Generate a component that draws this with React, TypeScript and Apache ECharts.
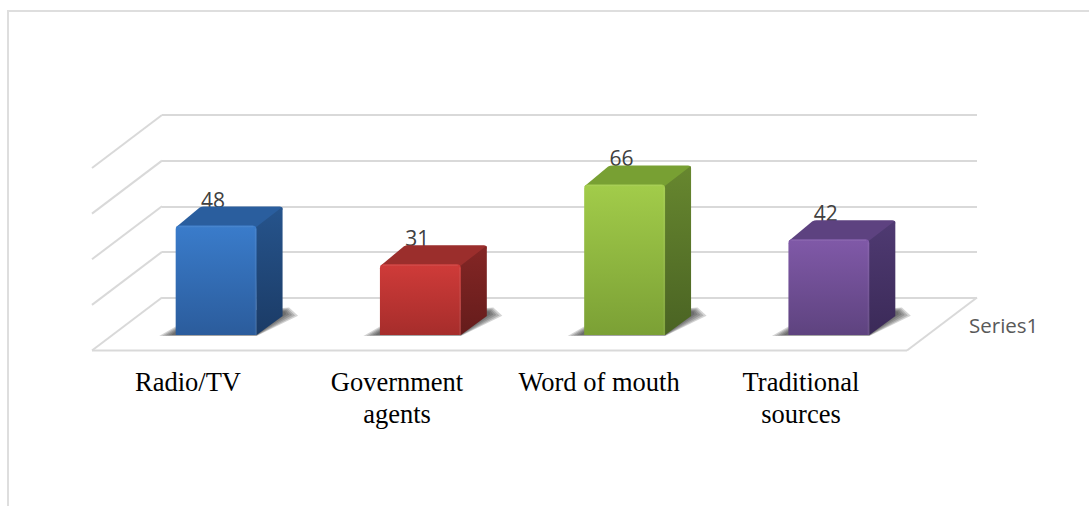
import React, { useEffect, useRef } from "react";
import * as echarts from "echarts";

const categories = ["Radio/TV", "Government\nagents", "Word of mouth", "Traditional\nsources"];
const values = [48, 31, 66, 42];
const seriesName = "Series1";
const yTicks = [0, 20, 40, 60, 80];

const frontTop = ["#3A7CCB", "#CF3B39", "#A2CC4A", "#8059A8"];
const frontBottom = ["#2B5C9C", "#A62D2B", "#7BA035", "#5E437F"];
const sideTop = ["#26548C", "#842625", "#67872F", "#4F3A72"];
const sideBottom = ["#1B3B66", "#651C1B", "#4A6323", "#3B2A58"];
const capColor = ["#2A5E9E", "#9B2E2C", "#78A033", "#5D4280"];

const GRID_COLOR = "#d9d9d9";
// Receding offsets of the floor and of each box
const FLOOR_DX = 70;
const FLOOR_DY = 53;
const BOX_DX = 26;
const BOX_DY = 19;
// Spread of the stacked translucent layers that make the soft floor shadow
const SHADOW_SPREAD = [9, 7, 5, 3, 1];

const vGrad = (a: string, b: string) =>
  new echarts.graphic.LinearGradient(0, 0, 0, 1, [
    { offset: 0, color: a },
    { offset: 1, color: b },
  ]);

function renderWall(_: any, api: any) {
  const tick = api.value(1);
  const [xl, y] = api.coord([0, tick]);
  const children: any[] = [
    {
      type: "line",
      shape: { x1: xl, y1: y, x2: xl - FLOOR_DX, y2: y + FLOOR_DY },
      style: { stroke: GRID_COLOR, lineWidth: 2 },
    },
  ];
  if (tick === 0) {
    const [xr] = api.coord([1, 0]);
    children.push(
      {
        type: "line",
        shape: { x1: xl - FLOOR_DX, y1: y + FLOOR_DY, x2: xr - FLOOR_DX, y2: y + FLOOR_DY },
        style: { stroke: GRID_COLOR, lineWidth: 2 },
      },
      {
        type: "line",
        shape: { x1: xr - FLOOR_DX, y1: y + FLOOR_DY, x2: xr, y2: y },
        style: { stroke: GRID_COLOR, lineWidth: 2 },
      },
    );
  }
  return { type: "group", children };
}

function renderBox(params: any, api: any) {
  const i = params.dataIndex;
  const value = api.value(1);
  const [cx, top] = api.coord([i, value]);
  const [, base] = api.coord([i, 0]);
  const w = api.size([1, 0])[0] * 0.396;
  const x0 = cx - w / 2;
  const x1 = cx + w / 2;
  const dx = BOX_DX;
  const dy = BOX_DY;
  const capPath =
    `M${x0} ${top + 2} L${x0 + dx - 2} ${top - dy + 1} Q${x0 + dx} ${top - dy} ${x0 + dx + 2} ${top - dy} ` +
    `L${x1 + dx - 3} ${top - dy} Q${x1 + dx} ${top - dy} ${x1 + dx} ${top - dy + 3} L${x1} ${top + 2} Z`;
  const sidePath =
    `M${x1 - 1} ${top + 2} L${x1 + dx - 1} ${top - dy + 1} Q${x1 + dx} ${top - dy} ${x1 + dx} ${top - dy + 3} ` +
    `L${x1 + dx} ${base - dy} L${x1} ${base} Z`;
  const shadowLayers = SHADOW_SPREAD.map((s) => ({
    type: "polygon",
    shape: {
      points: [
        [x0 - 3 - s * 1.5, base + s * 0.12],
        [x1, base + s * 0.12],
        [x1 + dx + 2 + s * 1.5, base - dy - 2 + s * 0.2],
        [x1 + dx + 2 + s * 0.5, base - dy - 4 - s * 0.5],
        [x1, base - dy - 6],
        [x0, base - 3 - s * 0.6],
      ],
    },
    style: { fill: "rgba(40,40,40,0.2)" },
  }));
  return {
    type: "group",
    children: [
      {
        type: "text",
        style: {
          text: String(value),
          x: cx - 3,
          y: top - 26,
          align: "center",
          verticalAlign: "middle",
          fontFamily: "Open Sans",
          fontSize: 21,
          fill: "#404040",
        },
      },
      ...shadowLayers,
      { type: "path", shape: { pathData: capPath }, style: { fill: capColor[i] } },
      { type: "path", shape: { pathData: sidePath }, style: { fill: vGrad(sideTop[i], sideBottom[i]) } },
      {
        type: "rect",
        shape: { x: x0, y: top, width: w, height: base - top, r: [4, 4, 0, 0] },
        style: { fill: vGrad(frontTop[i], frontBottom[i]) },
      },
      {
        type: "line",
        shape: { x1: x1 - 1, y1: top + 3, x2: x1 - 1, y2: base },
        style: { stroke: "rgba(255,255,255,0.07)", lineWidth: 1.5 },
      },
      {
        type: "line",
        shape: { x1: x0 + 3, y1: top + 1, x2: x1 - 3, y2: top + 1 },
        style: { stroke: "rgba(255,255,255,0.07)", lineWidth: 1.5 },
      },
    ],
  };
}

export default function App() {
  const ref = useRef<HTMLDivElement>(null);
  useEffect(() => {
    document.body.style.margin = "0";
    const chart = echarts.init(ref.current!, null, { renderer: "svg" });
    chart.setOption({
      animation: false,
      backgroundColor: "#ffffff",
      grid: [
        { left: 162, top: 115, width: 815, height: 182.5 },
        { left: 114, top: 152.5, width: 817, height: 182.5 },
        { left: 94, top: 300, width: 808, height: 50.5 },
      ],
      xAxis: [
        { gridIndex: 0, type: "value", min: 0, max: 1, show: false },
        { gridIndex: 1, type: "category", data: categories, show: false },
        {
          gridIndex: 2,
          type: "category",
          data: categories,
          axisLine: { show: false },
          axisTick: { show: false },
          axisLabel: {
            interval: 0,
            margin: 15,
            fontFamily: "Liberation Serif",
            fontSize: 26.5,
            lineHeight: 32,
            color: "#000000",
            verticalAlign: "top",
            // The first label sits a little left of its band
            formatter: (v: string, i: number) => (i === 0 ? `{lead|${v}}` : v),
            rich: {
              lead: {
                fontFamily: "Liberation Serif",
                fontSize: 26.5,
                lineHeight: 32,
                color: "#000000",
                padding: [0, 14, 0, 0],
              },
            },
          },
        },
      ],
      yAxis: [
        {
          gridIndex: 0,
          type: "value",
          min: 0,
          max: 80,
          interval: 20,
          axisLine: { show: false },
          axisTick: { show: false },
          axisLabel: { show: false },
          splitLine: { show: true, lineStyle: { color: GRID_COLOR, width: 2 } },
        },
        { gridIndex: 1, type: "value", min: 0, max: 80, interval: 20, show: false, splitLine: { show: false } },
        { gridIndex: 2, type: "value", min: 0, max: 80, interval: 20, show: false, splitLine: { show: false } },
      ],
      series: [
        {
          type: "custom",
          xAxisIndex: 0,
          yAxisIndex: 0,
          clip: false,
          silent: true,
          renderItem: renderWall,
          data: yTicks.map((t) => [0, t]),
        },
        {
          type: "custom",
          name: seriesName,
          xAxisIndex: 1,
          yAxisIndex: 1,
          clip: false,
          renderItem: renderBox,
          data: values.map((v, i) => [i, v]),
          z: 5,
        },
        {
          // Empty series that keeps the label axis active
          type: "bar",
          xAxisIndex: 2,
          yAxisIndex: 2,
          data: [],
        },
      ],
      graphic: [
        {
          type: "line",
          shape: { x1: 8, y1: 11, x2: 1089, y2: 11 },
          style: { stroke: "#dedede", lineWidth: 2 },
        },
        {
          type: "line",
          shape: { x1: 8, y1: 10, x2: 8, y2: 506 },
          style: { stroke: "#dedede", lineWidth: 2 },
        },
        {
          type: "text",
          style: {
            text: seriesName,
            x: 969,
            y: 325,
            verticalAlign: "middle",
            fontFamily: "Open Sans",
            fontSize: 20.5,
            fill: "#595959",
          },
        },
      ],
    });
    return () => chart.dispose();
  }, []);
  return <div ref={ref} style={{ width: 1089, height: 506 }} />;
}
